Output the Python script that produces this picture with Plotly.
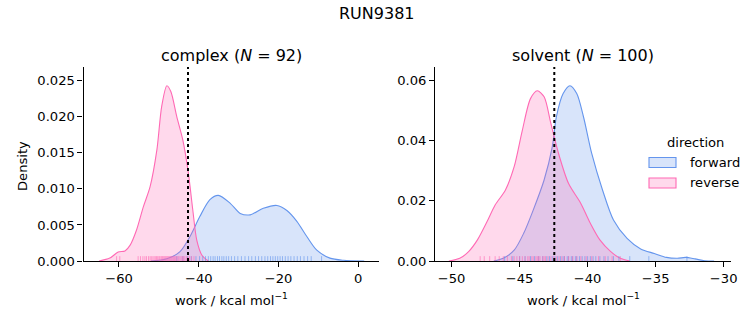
import plotly.graph_objects as go

# ---------------- data ----------------
# KDE curves (x = work / kcal mol^-1, y = density)
complex_fwd_x = [-52.0, -48.0, -44.7, -42.2, -39.7, -37.2, -35.1, -32.1, -29.6, -27.1, -23.8,
                 -20.4, -17.9, -15.4, -12.9, -10.4, -7.1, -3.7, 1.5]
complex_fwd_y = [0, 0.0003, 0.0013, 0.0034, 0.0062, 0.0085, 0.0091, 0.0080, 0.0066, 0.0064, 0.0073,
                 0.0077, 0.0070, 0.0055, 0.0034, 0.0015, 0.0004, 0.0001, 0]
complex_rev_x = [-65.0, -62.3, -60.2, -58.5, -57.2, -55.6, -53.9, -52.2, -50.5, -49.3, -48.0,
                 -47.0, -45.5, -44.0, -42.6, -41.5, -40.5, -39.2, -37.6]
complex_rev_y = [0, 0.0004, 0.00125, 0.0014, 0.0022, 0.0043, 0.0075, 0.0103, 0.0154, 0.0214, 0.0243,
                 0.0235, 0.0200, 0.0168, 0.0122, 0.0071, 0.0029, 0.0008, 0]

solvent_fwd_x = [-46.9, -46.2, -45.4, -44.7, -44.0, -43.2, -42.6, -42.3, -41.8, -41.3, -40.8, -40.3,
                 -39.7, -38.9, -38.1, -37.1, -36.1, -35.1, -34.2, -33.4, -32.8, -32.1, -31.4, -30.7]
solvent_fwd_y = [0, 0.0009, 0.0036, 0.0092, 0.0169, 0.0269, 0.0379, 0.0478, 0.0556, 0.0582, 0.0556, 0.0478,
                 0.0357, 0.0235, 0.0136, 0.0075, 0.0040, 0.0025, 0.0012, 0.0009, 0.0012, 0.0007, 0.0001, 0]
solvent_rev_x = [-50.2, -49.4, -48.75, -48.1, -47.4, -46.8, -46.05, -45.4, -44.8, -44.2, -43.7,
                 -43.2, -42.7, -42.1, -41.4, -40.5, -39.8, -39.1, -38.3, -37.6, -36.9]
solvent_rev_y = [0, 0.0009, 0.0031, 0.0070, 0.0130, 0.0186, 0.0235, 0.0313, 0.0434, 0.0539, 0.0565,
                 0.0545, 0.0456, 0.0351, 0.0257, 0.0191, 0.0125, 0.0070, 0.0031, 0.0009, 0]

# rug samples (individual work values)
complex_fwd_rug = [-45.5, -44.0, -42.8, -41.9, -40.7, -39.8, -39.0, -38.3, -37.6, -37.0, -36.4, -35.9,
                   -35.3, -34.8, -34.2, -33.7, -33.1, -32.5, -31.8, -31.0, -30.2, -29.3, -28.4, -27.5,
                   -26.7, -25.8, -25.0, -24.2, -23.4, -22.7, -22.0, -21.4, -20.8, -20.2, -19.6, -19.0,
                   -18.3, -17.6, -16.9, -16.1, -15.3, -14.5, -13.6, -12.7, -11.8, -9.2]
complex_rev_rug = [-60.6, -59.8, -55.2, -54.6, -54.0, -53.5, -53.1, -52.6, -52.2, -51.9, -51.5, -51.2,
                   -50.9, -50.6, -50.3, -50.0, -49.8, -49.5, -49.3, -49.1, -48.9, -48.7, -48.5, -48.4,
                   -48.2, -48.0, -47.9, -47.7, -47.5, -47.4, -47.2, -47.0, -46.9, -46.7, -46.5, -46.3,
                   -46.1, -45.9, -45.7, -45.5, -45.2, -45.0, -44.7, -44.4, -44.1, -43.8, -43.5, -43.1,
                   -42.7, -42.3, -41.8, -41.2]
solvent_fwd_rug = [-46.1, -45.5, -45.0, -44.6, -44.2, -43.9, -43.6, -43.3, -43.0, -42.8, -42.6, -42.4,
                   -42.2, -42.0, -41.8, -41.7, -41.5, -41.4, -41.2, -41.1, -40.9, -40.8, -40.6, -40.4,
                   -40.2, -40.0, -39.8, -39.6, -39.4, -39.1, -38.8, -38.5, -38.1, -37.7, -36.9, -35.5, -32.7]
solvent_rev_rug = [-47.9, -47.6, -47.2, -46.8, -46.5, -46.2, -45.9, -45.6, -45.4, -45.2, -45.0, -44.8,
                   -44.6, -44.4, -44.3, -44.1, -44.0, -43.8, -43.7, -43.6, -43.5, -43.3, -43.2, -43.1,
                   -42.9, -42.7, -42.5, -42.3, -42.1, -41.9, -41.7, -41.4, -41.1, -40.8, -40.5, -40.1,
                   -39.7, -39.2, -38.7, -38.2, -37.6]

# free-energy estimates (dotted lines)
complex_estimate = -42.7
solvent_estimate = -42.45

panels = ["complex", "solvent"]
panel_n = [92, 100]
directions = ["forward", "reverse"]

# ---------------- style ----------------
FONT = "DejaVu Sans"
FS = 13.1
W, H = 753, 325
BLUE = "#6495ED"
PINK = "#FF69B4"
BLUE_F = "rgba(100,149,237,0.25)"
PINK_F = "rgba(255,105,180,0.25)"


def px_x(p):
    return p / W


def px_y(p):
    return 1 - p / H


left_dom = [px_x(83.5), px_x(379)]
right_dom = [px_x(435), px_x(731)]
y_dom = [px_y(261), px_y(67)]

left_xr = [-68.9, 5.2]
left_yr = [0, 0.0269]
right_xr = [-51.22, -29.46]
right_yr = [0, 0.0644]

fig = go.Figure()


def rug(vals, top):
    xs, ys = [], []
    for v in vals:
        xs += [v, v, None]
        ys += [0, top, None]
    return xs, ys


def add_panel(xa, ya, fx, fy, rx, ry, frug, rrug, yr):
    fig.add_trace(go.Scatter(x=fx, y=fy, mode="lines",
                             line=dict(color=BLUE, width=1.1, shape="spline", smoothing=0.8),
                             fill="tozeroy", fillcolor=BLUE_F, xaxis=xa, yaxis=ya,
                             showlegend=False, name="forward"))
    fig.add_trace(go.Scatter(x=rx, y=ry, mode="lines",
                             line=dict(color=PINK, width=1.1, shape="spline", smoothing=0.8),
                             fill="tozeroy", fillcolor=PINK_F, xaxis=xa, yaxis=ya,
                             showlegend=False, name="reverse"))
    top = 0.025 * yr[1]
    bx, by = rug(frug, top)
    fig.add_trace(go.Scatter(x=bx, y=by, mode="lines", line=dict(color=BLUE, width=1), opacity=0.6,
                             xaxis=xa, yaxis=ya, showlegend=False, hoverinfo="skip"))
    px_, py_ = rug(rrug, top)
    fig.add_trace(go.Scatter(x=px_, y=py_, mode="lines", line=dict(color=PINK, width=1), opacity=0.6,
                             xaxis=xa, yaxis=ya, showlegend=False, hoverinfo="skip"))


add_panel("x", "y", complex_fwd_x, complex_fwd_y, complex_rev_x, complex_rev_y,
          complex_fwd_rug, complex_rev_rug, left_yr)
add_panel("x2", "y2", solvent_fwd_x, solvent_fwd_y, solvent_rev_x, solvent_rev_y,
          solvent_fwd_rug, solvent_rev_rug, right_yr)

# dotted estimate lines
for xref, yref, xv in [("x", "y domain", complex_estimate), ("x2", "y2 domain", solvent_estimate)]:
    fig.add_shape(type="line", xref=xref, yref=yref, x0=xv, x1=xv, y0=0, y1=1,
                  line=dict(color="black", width=2, dash="dot"))

axis_common = dict(showline=True, linecolor="black", linewidth=1.1, ticks="outside", ticklen=5,
                   tickwidth=1.1, tickcolor="black", showgrid=False, zeroline=False, automargin=False,
                   tickfont=dict(family=FONT, size=FS, color="black"), mirror=False)

fig.update_layout(
    width=W, height=H, margin=dict(l=0, r=0, t=0, b=0, pad=0, autoexpand=False),
    paper_bgcolor="white", plot_bgcolor="white",
    font=dict(family=FONT, size=FS, color="black"),
    xaxis=dict(domain=left_dom, range=left_xr, tickvals=[-60, -40, -20, 0], anchor="y", **axis_common),
    yaxis=dict(domain=y_dom, range=left_yr, tickvals=[0, 0.005, 0.01, 0.015, 0.02, 0.025],
               tickformat=".3f", anchor="x", **axis_common),
    xaxis2=dict(domain=right_dom, range=right_xr, tickvals=[-50, -45, -40, -35, -30], anchor="y2",
                **axis_common),
    yaxis2=dict(domain=y_dom, range=right_yr, tickvals=[0, 0.02, 0.04, 0.06], tickformat=".2f",
                anchor="x2", **axis_common),
    showlegend=False,
)

ann = []
ann.append(dict(text="RUN9381", x=px_x(377), y=px_y(13), xref="paper", yref="paper", showarrow=False,
                xanchor="center", yanchor="middle", font=dict(family=FONT, size=16, color="black")))
for name, n, dom in zip(panels, panel_n, [left_dom, right_dom]):
    ann.append(dict(text=f"{name} (<i>N</i> = {n})", x=(dom[0] + dom[1]) / 2, y=px_y(55),
                    xref="paper", yref="paper", showarrow=False, xanchor="center", yanchor="middle",
                    font=dict(family=FONT, size=16, color="black")))
    ann.append(dict(text="work / kcal mol<sup>−1</sup>", x=(dom[0] + dom[1]) / 2, y=px_y(299),
                    xref="paper", yref="paper", showarrow=False, xanchor="center", yanchor="middle",
                    font=dict(family=FONT, size=FS, color="black")))
ann.append(dict(text="Density", x=px_x(22), y=px_y(166), xref="paper", yref="paper", showarrow=False,
                xanchor="center", yanchor="middle", textangle=-90,
                font=dict(family=FONT, size=FS, color="black")))

# legend (matplotlib-like patches)
ann.append(dict(text="direction", x=px_x(695), y=px_y(142), xref="paper", yref="paper", showarrow=False,
                xanchor="center", yanchor="middle", font=dict(family=FONT, size=FS, color="black")))
for label, col, fcol, yc in [(directions[0], BLUE, BLUE_F, 162.5), (directions[1], PINK, PINK_F, 183)]:
    fig.add_shape(type="rect", xref="paper", yref="paper", x0=px_x(649), x1=px_x(676),
                  y0=px_y(yc + 5), y1=px_y(yc - 5), line=dict(color=col, width=1.1), fillcolor=fcol)
    ann.append(dict(text=label, x=px_x(688), y=px_y(yc), xref="paper", yref="paper", showarrow=False,
                    xanchor="left", yanchor="middle", font=dict(family=FONT, size=FS, color="black")))

fig.update_layout(annotations=ann)
fig.write_html("out.html")
